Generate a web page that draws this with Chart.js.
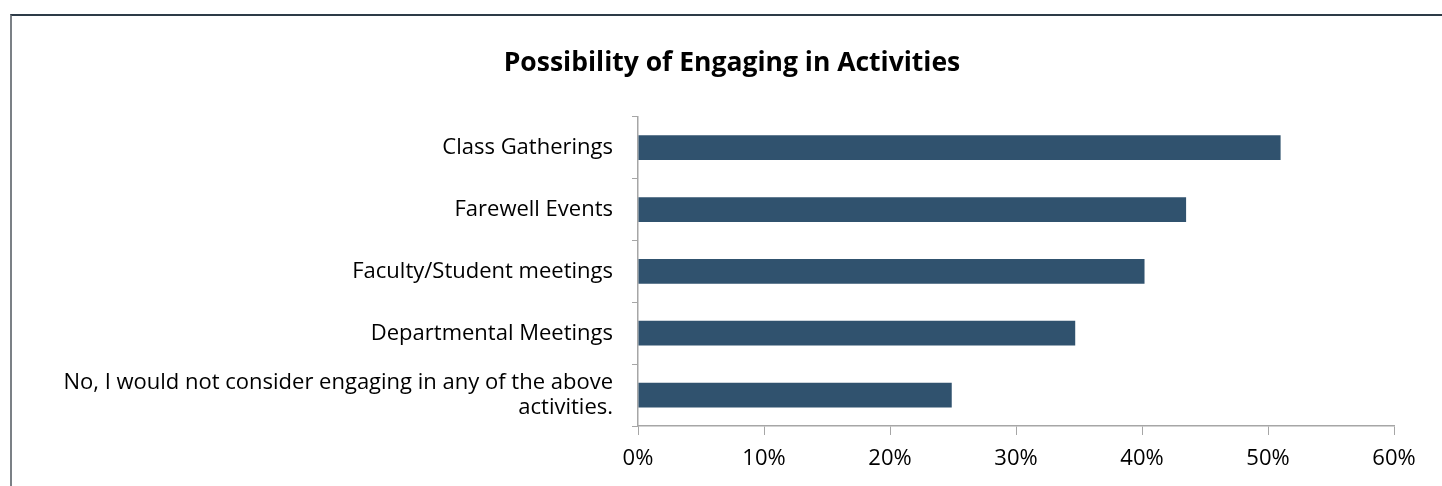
<!DOCTYPE html>
<html>
<head>
<meta charset="utf-8">
<script src="https://cdn.jsdelivr.net/npm/chart.js@4/dist/chart.umd.min.js"></script>
<style>
  html, body { margin: 0; padding: 0; background: #fff; }
  #wrap { position: relative; width: 1442px; height: 486px; overflow: hidden; }
  /* chart frame: dark top edge, grey left edge, runs off the right/bottom */
  #frame {
    position: absolute; left: 10px; top: 14px; width: 1500px; height: 500px;
    border-top: 2px solid #2d3b47; border-left: 2px solid #7b8086;
  }
  canvas { position: absolute; left: 0; top: 0; }
</style>
</head>
<body>
<div id="wrap">
  <div id="frame"></div>
  <canvas id="activityChart" width="1442" height="486"></canvas>
</div>
<script>
  // Survey answers, percentage of respondents
  const categories = [
    'Class Gatherings',
    'Farewell Events',
    'Faculty/Student meetings',
    'Departmental Meetings',
    ['No, I would not consider engaging in any of the above', 'activities.']
  ];
  const percentages = [51.0, 43.5, 40.2, 34.7, 24.9];
  const xTicks = [0, 10, 20, 30, 40, 50, 60];

  const axisGrey = '#a6a6a6';
  const labelFont = { family: 'Open Sans', size: 22, lineHeight: 1.15 };

  // the long category label runs into the left padding, so widen the
  // y axis label clip area back to the canvas edge
  const wideLabels = {
    id: 'wideLabels',
    afterLayout(chart) { chart.scales.y.left = 0; }
  };

  new Chart(document.getElementById('activityChart'), {
    type: 'bar',
    data: {
      labels: categories,
      datasets: [{
        data: percentages,
        backgroundColor: '#30526e',
        barPercentage: 0.8,
        categoryPercentage: 0.5
      }]
    },
    plugins: [wideLabels],
    options: {
      indexAxis: 'y',
      responsive: false,
      animation: false,
      // left padding shifts the title centre to the right
      layout: { padding: { left: 70, right: 48, top: 0, bottom: 0 } },
      plugins: {
        legend: { display: false },
        tooltip: { enabled: false },
        title: {
          display: true,
          text: 'Possibility of Engaging in Activities',
          color: '#000',
          font: { family: 'Open Sans', size: 26.5, weight: 'bold', lineHeight: 1.2 },
          padding: { top: 48, bottom: 37 }
        }
      },
      scales: {
        x: {
          min: xTicks[0],
          max: xTicks[xTicks.length - 1],
          afterBuildTicks: axis => { axis.ticks = xTicks.map(v => ({ value: v })); },
          afterFit: axis => { axis.height = 60; },
          grid: { drawOnChartArea: false, color: axisGrey, tickLength: 9 },
          border: { color: axisGrey, width: 1.5 },
          ticks: {
            color: '#000',
            font: labelFont,
            padding: 11,
            callback: v => v + '%'
          }
        },
        y: {
          afterFit: axis => { axis.width = 568; },
          grid: { drawOnChartArea: false, color: axisGrey, tickLength: 6, offset: true },
          border: { color: axisGrey, width: 1.5 },
          ticks: {
            color: '#000',
            font: labelFont,
            padding: 19
          }
        }
      }
    }
  });
</script>
</body>
</html>
